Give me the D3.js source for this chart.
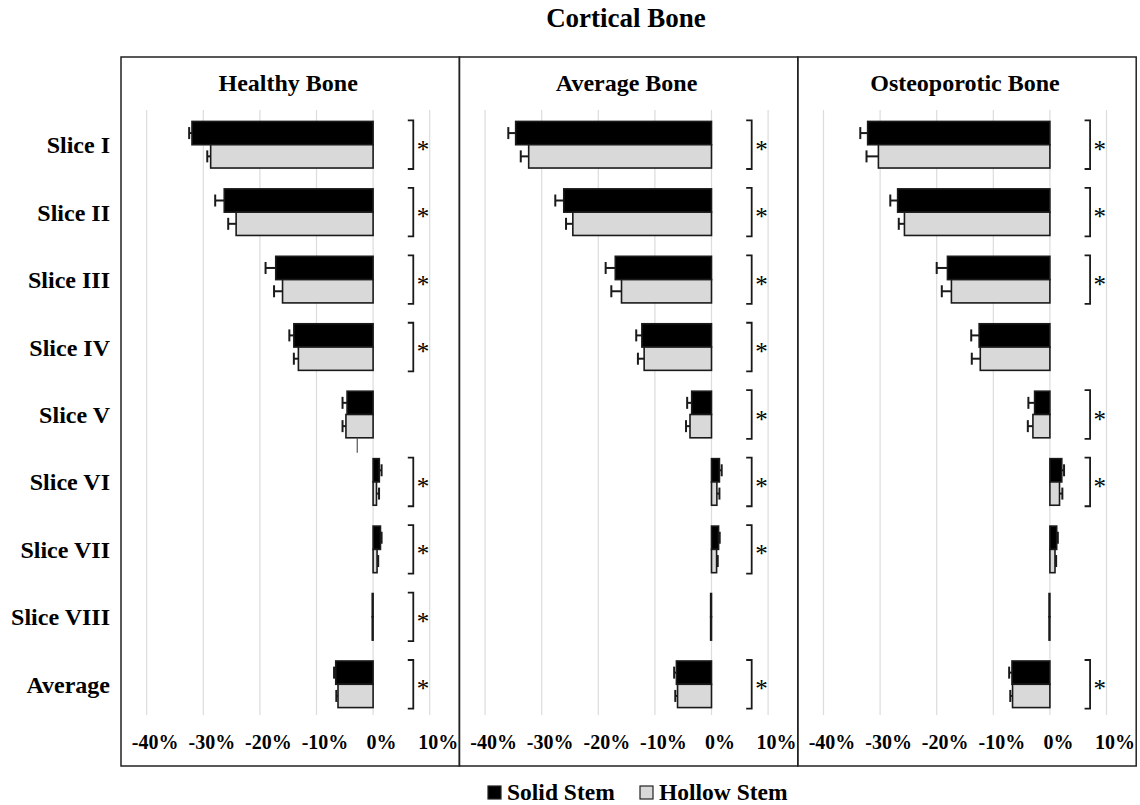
<!DOCTYPE html>
<html>
<head>
<meta charset="utf-8">
<script src="https://cdn.jsdelivr.net/npm/d3@7"></script>
<style>
  html, body { margin: 0; padding: 0; background: #fff; }
  svg { display: block; font-family: "Liberation Serif", "Times New Roman", serif; font-weight: bold; }
</style>
</head>
<body>
<svg id="chart" width="1140" height="805"></svg>
<script>
// ---- data ----
const chartTitle = "Cortical Bone";
const panelTitles = ["Healthy Bone", "Average Bone", "Osteoporotic Bone"];
const categories = ["Slice I", "Slice II", "Slice III", "Slice IV", "Slice V", "Slice VI", "Slice VII", "Slice VIII", "Average"];
const seriesNames = ["Solid Stem", "Hollow Stem"];
const tickValues = [-40, -30, -20, -10, 0, 10];
const tickLabels = ["-40%", "-30%", "-20%", "-10%", "0%", "10%"];

// values in %
const healthySolid      = [-32.0, -26.3, -17.2, -14.0, -4.6, 1.1, 1.3, -0.15, -6.6];
const healthySolidErr   = [0.5, 1.6, 1.8, 0.8, 0.8, 0.4, 0.2, 0, 0.3];
const healthyHollow     = [-28.7, -24.2, -16.0, -13.2, -4.8, 0.6, 0.7, -0.15, -6.2];
const healthyHollowErr  = [0.6, 1.4, 1.5, 0.8, 0.6, 0.45, 0.2, 0, 0.3];

const averageSolid      = [-34.6, -26.1, -17.0, -12.3, -3.5, 1.4, 1.25, -0.15, -6.2];
const averageSolidErr   = [1.3, 1.5, 1.7, 1.0, 0.8, 0.4, 0.2, 0, 0.4];
const averageHollow     = [-32.3, -24.5, -15.9, -11.9, -3.8, 0.95, 0.9, -0.15, -6.0];
const averageHollowErr  = [1.4, 1.2, 1.8, 1.1, 0.7, 0.45, 0.2, 0, 0.4];

const osteoSolid        = [-32.2, -26.9, -18.1, -12.5, -2.7, 2.1, 1.2, -0.15, -6.7];
const osteoSolidErr     = [1.3, 1.3, 1.9, 1.4, 1.1, 0.4, 0.2, 0, 0.5];
const osteoHollow       = [-30.3, -25.7, -17.4, -12.3, -3.0, 1.7, 0.9, -0.15, -6.6];
const osteoHollowErr    = [2.1, 1.0, 1.7, 1.5, 0.9, 0.5, 0.2, 0, 0.4];

// significance markers (1 = bracket with *)
const healthySig = [1, 1, 1, 1, 0, 1, 1, 1, 1];
const averageSig = [1, 1, 1, 1, 1, 1, 1, 0, 1];
const osteoSig   = [1, 1, 1, 0, 1, 1, 0, 0, 1];
const bracketAt  = 7.1; // % position of significance bracket

// stray thin mark visible in the healthy-bone panel under Slice V
const strayMarks = [{ panel: 0, category: "Slice V", value: -2.8 }];

const panelData = [
  { solid: healthySolid, solidErr: healthySolidErr, hollow: healthyHollow, hollowErr: healthyHollowErr, sig: healthySig },
  { solid: averageSolid, solidErr: averageSolidErr, hollow: averageHollow, hollowErr: averageHollowErr, sig: averageSig },
  { solid: osteoSolid,   solidErr: osteoSolidErr,   hollow: osteoHollow,   hollowErr: osteoHollowErr,   sig: osteoSig }
];

// ---- layout ----
const svg = d3.select("#chart");
const panelLeft0 = 121, panelW = 338.4, panelTop = 57, panelBottom = 766;
const plotOffset = 25.7, plotW = 283;
const colors = { solid: "#000000", hollow: "#d9d9d9" };

const y = d3.scaleBand().domain(categories).range([111, 718]).paddingInner(0).paddingOuter(0);
const barH = 23.3;

svg.append("text")
  .attr("x", 626).attr("y", 27)
  .attr("text-anchor", "middle")
  .attr("font-size", 27)
  .text(chartTitle);

// category labels
svg.append("g").selectAll("text")
  .data(categories).join("text")
  .attr("x", 110)
  .attr("y", d => y(d) + y.bandwidth() / 2 + 8.5)
  .attr("text-anchor", "end")
  .attr("font-size", 24)
  .text(d => d);

panelData.forEach((pd, pi) => {
  const pLeft = panelLeft0 + pi * panelW;
  const g = svg.append("g");
  const x = d3.scaleLinear().domain([-40, 10]).range([pLeft + plotOffset, pLeft + plotOffset + plotW]);

  // gridlines
  g.append("g").selectAll("line")
    .data(tickValues).join("line")
    .attr("x1", d => x(d)).attr("x2", d => x(d))
    .attr("y1", 110).attr("y2", 715)
    .attr("stroke", "#dcdcdc").attr("stroke-width", 1.2);

  // axis labels via d3 axis
  const axis = d3.axisBottom(x).tickValues(tickValues)
    .tickFormat((d, i) => tickLabels[i]).tickSize(0).tickPadding(0);
  const ax = g.append("g").attr("transform", "translate(0,735)").call(axis);
  ax.select(".domain").remove();
  ax.selectAll("text")
    .attr("font-family", "Liberation Serif, serif")
    .attr("font-weight", "bold")
    .attr("font-size", 20)
    .attr("fill", "#000")
    .attr("dx", 8)
    .attr("dy", "0.71em");

  // panel title
  g.append("text")
    .attr("x", pLeft + panelW / 2 - 2).attr("y", 91)
    .attr("text-anchor", "middle")
    .attr("font-size", 24)
    .text(panelTitles[pi]);

  const rows = categories.map((c, i) => ({
    cat: c, solid: pd.solid[i], solidErr: pd.solidErr[i],
    hollow: pd.hollow[i], hollowErr: pd.hollowErr[i], sig: pd.sig[i]
  }));

  const series = [
    { key: "solid", fill: colors.solid, off: 0 },
    { key: "hollow", fill: colors.hollow, off: 1 }
  ];

  series.forEach(s => {
    const top = d => y(d.cat) + y.bandwidth() / 2 - barH + s.off * barH;
    // bars
    g.append("g").selectAll("rect")
      .data(rows).join("rect")
      .attr("x", d => Math.min(x(0), x(d[s.key])))
      .attr("y", top)
      .attr("width", d => Math.abs(x(d[s.key]) - x(0)))
      .attr("height", barH)
      .attr("fill", s.fill)
      .attr("stroke", "#1a1a1a")
      .attr("stroke-width", 1.6);

    // error bars
    const errRows = rows.filter(d => d[s.key + "Err"] > 0);
    const eEnd = d => x(d[s.key] + Math.sign(d[s.key]) * d[s.key + "Err"]);
    const eg = g.append("g").attr("stroke", "#1a1a1a").attr("stroke-width", 2);
    eg.selectAll("line.h").data(errRows).join("line")
      .attr("class", "h")
      .attr("x1", d => x(d[s.key])).attr("x2", eEnd)
      .attr("y1", d => top(d) + barH / 2).attr("y2", d => top(d) + barH / 2);
    eg.selectAll("line.c").data(errRows).join("line")
      .attr("class", "c")
      .attr("x1", eEnd).attr("x2", eEnd)
      .attr("y1", d => top(d) + barH / 2 - 6).attr("y2", d => top(d) + barH / 2 + 6);
  });

  // significance brackets
  const sigRows = rows.filter(d => d.sig);
  const bx = x(bracketAt);
  const bg = g.append("g");
  bg.selectAll("path").data(sigRows).join("path")
    .attr("d", d => {
      const c = y(d.cat) + y.bandwidth() / 2;
      const t = c - barH - 1, b = c + barH + 1;
      return `M${bx - 5.5},${t}H${bx}V${b}H${bx - 5.5}`;
    })
    .attr("fill", "none").attr("stroke", "#1a1a1a").attr("stroke-width", 1.8);
  bg.selectAll("text").data(sigRows).join("text")
    .attr("x", bx + 3.5)
    .attr("y", d => y(d.cat) + y.bandwidth() / 2 + 13)
    .attr("font-size", 25)
    .attr("font-weight", "normal")
    .text("*");

  // stray marks
  strayMarks.filter(m => m.panel === pi).forEach(m => {
    const c = y(m.category) + y.bandwidth() / 2;
    g.append("line")
      .attr("x1", x(m.value)).attr("x2", x(m.value))
      .attr("y1", c + barH).attr("y2", c + barH + 15)
      .attr("stroke", "#555").attr("stroke-width", 1.2);
  });

  // panel border
  g.append("rect")
    .attr("x", pLeft).attr("y", panelTop)
    .attr("width", panelW).attr("height", panelBottom - panelTop)
    .attr("fill", "none").attr("stroke", "#222").attr("stroke-width", 1.5);
});

// legend
const legend = svg.append("g").attr("transform", "translate(488,786)");
const legendItems = [
  { name: seriesNames[0], fill: colors.solid, x: 0 },
  { name: seriesNames[1], fill: colors.hollow, x: 152 }
];
legendItems.forEach(it => {
  legend.append("rect")
    .attr("x", it.x).attr("y", 0).attr("width", 13).attr("height", 13)
    .attr("fill", it.fill).attr("stroke", "#222").attr("stroke-width", 1.2);
  legend.append("text")
    .attr("x", it.x + 19).attr("y", 14)
    .attr("font-size", 23.5)
    .text(it.name);
});
</script>
</body>
</html>
